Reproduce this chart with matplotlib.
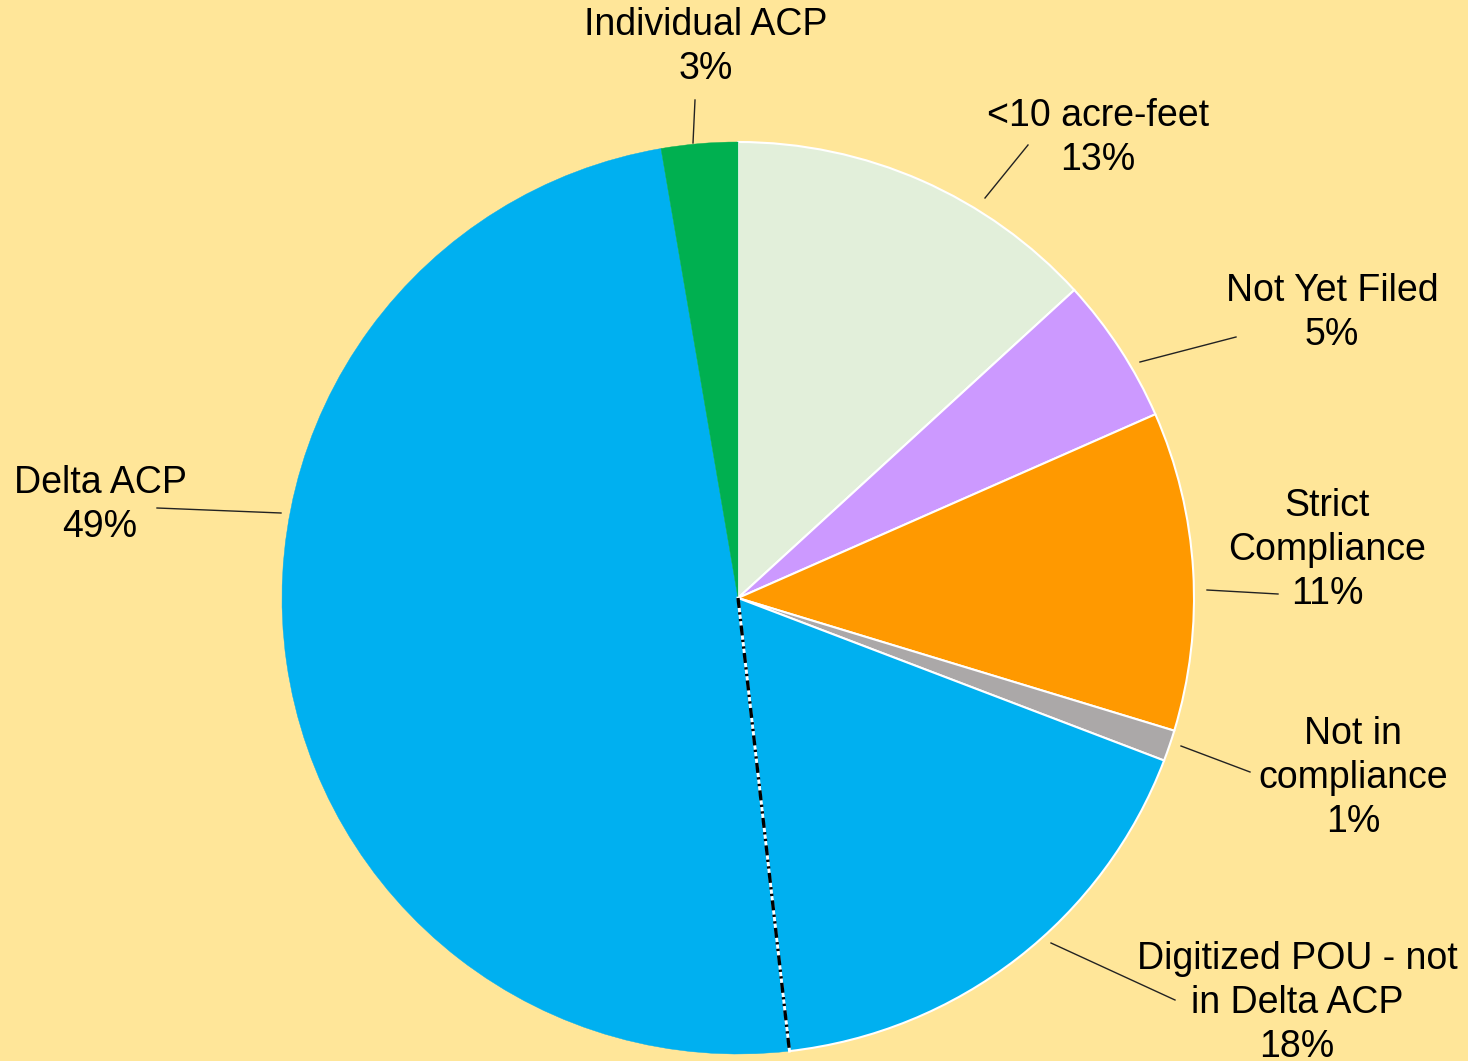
import matplotlib
matplotlib.use("Agg")
import matplotlib.pyplot as plt
import numpy as np

plt.rcParams['font.family'] = ['Liberation Sans', 'DejaVu Sans']

# ---- data ----
categories = ["<10 acre-feet", "Not Yet Filed", "Strict\nCompliance", "Not in\ncompliance",
              "Digitized POU - not\nin Delta ACP", "Delta ACP", "Individual ACP"]
values = [13.2, 5.2, 11.3, 1.1, 17.4, 49.1, 2.7]
pct_labels = ["13%", "5%", "11%", "1%", "18%", "49%", "3%"]
colors = ["#E2EFDA", "#CC99FF", "#FF9900", "#ABA8A8", "#00B0F0", "#00B0F0", "#00B050"]

# ---- layout (pixel coords, y from top) ----
W, H = 1468, 1061
center_px = (738, 598)
radius = 456
label_pos = [(1098, 138), (1332, 313), (1327, 550), (1353, 778), (1297, 1003), (100, 505), (706, 47)]
leader = [((985, 198), (1028, 145)), ((1140, 362), (1236, 337)), ((1207, 590), (1278, 594)),
          ((1181, 746), (1250, 772)), ((1051, 943), (1175, 1000)), ((281, 513), (157, 508)),
          ((693, 143), (695, 100))]

bg = "#FFE699"
fig = plt.figure(figsize=(W / 100, H / 100), dpi=100, facecolor=bg)
ax = fig.add_axes([0, 0, 1, 1])
ax.set_facecolor(bg)

cx, cy = center_px[0], H - center_px[1]
wedges, _ = ax.pie(values, colors=colors, startangle=90, counterclock=False,
                   center=(cx, cy), radius=radius, frame=True,
                   wedgeprops=dict(linewidth=1.5, edgecolor="white"))
# slices without visible white edge
for i in (5, 6):
    wedges[i].set_edgecolor(wedges[i].get_facecolor())
    wedges[i].set_linewidth(0.3)
ax.set_xlim(0, W)
ax.set_ylim(0, H)
ax.axis('off')

# dash-dot-dot boundary between Digitized POU and Delta ACP
frac = sum(values[:5]) / sum(values)
ang = np.deg2rad(90 - 360 * frac)
ex, ey = cx + radius * np.cos(ang), cy + radius * np.sin(ang)
ax.plot([cx, ex], [cy, ey], color="white", lw=2.0, zorder=5)
ax.plot([cx, ex], [cy, ey], color="black", lw=2.4, zorder=6,
        linestyle=(0, (3, 1.3, 0.7, 1.3, 0.7, 1.3)))

for cat, pct, (lx, ly), (p0, p1) in zip(categories, pct_labels, label_pos, leader):
    ax.text(lx, H - ly, f"{cat}\n{pct}", ha="center", va="center", fontsize=27,
            color="black", linespacing=1.3)
    ax.plot([p0[0], p1[0]], [H - p0[1], H - p1[1]], color="#222222", lw=1.0)

fig.savefig("out.png", dpi=100, facecolor=bg)
